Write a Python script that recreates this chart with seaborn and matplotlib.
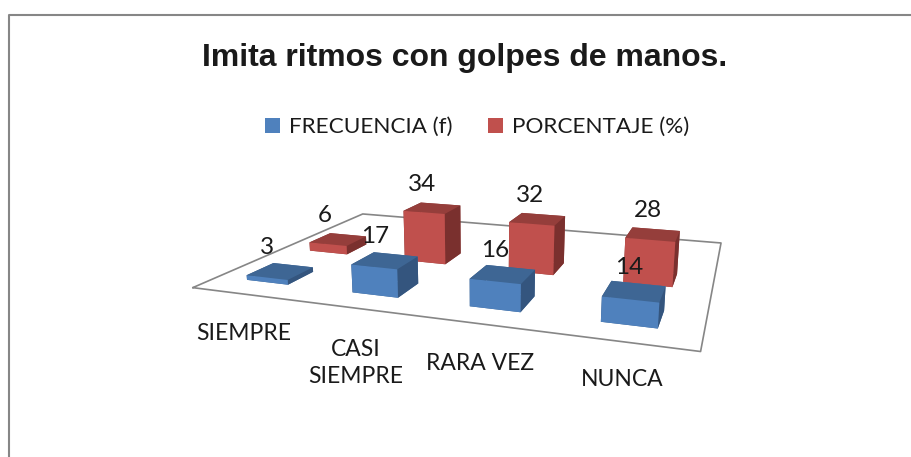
# Imita ritmos con golpes de manos - 3D bars, seaborn theme on a mplot3d axes
import numpy as np
from matplotlib import pyplot as plt
from matplotlib.lines import Line2D
from matplotlib.patches import Patch
from mpl_toolkits.mplot3d import proj3d
import seaborn as sns

categories = ["SIEMPRE", "CASI\nSIEMPRE", "RARA VEZ", "NUNCA"]
frecuencia = [3, 17, 16, 14]
porcentaje = [6, 34, 32, 28]
series_names = ["FRECUENCIA (f)", "PORCENTAJE (%)"]
title = "Imita ritmos con golpes de manos."

W, H = 911, 457
sns.set_theme(style="white")

# front, top and side colours of the bars
blue_front, blue_top, blue_side = "#4F81BD", "#3E6694", "#34557E"
red_front, red_top, red_side = "#C0504D", "#953E3B", "#7A302E"
frame_color = "#868686"

fig = plt.figure(figsize=(W/100, H/100), dpi=100)

# camera settings found by matching the floor corners of the original
dx, dy = 15.53, 17.66
ax = fig.add_axes([dx/W, (-(W-H)/2-dy)/H, 1, W/H], projection='3d')
ax.set_xlim(0, 4)
ax.set_ylim(0, 2)
ax.set_zlim(0, 40)
ax.set_axis_off()
ax.view_init(14.11, -70.68)
ax.set_proj_type('persp', focal_length=np.exp(-1.8659))
ax.set_box_aspect((3.3689, 2.4537, 0.4599), zoom=0.5912)

u0, bar_w, bar_d = 0.2886, 0.4007, 0.2655
rows = [
    (frecuencia, 0.2220, [blue_top, blue_top, blue_front, blue_top, blue_side, blue_side]),
    (porcentaje, 0.8973, [red_top, red_top, red_front, red_top, red_side, red_side]),
]

# floor outline
ax.plot([0, 0, 4, 4, 0], [0, 2, 2, 0, 0], [0, 0, 0, 0, 0], color=frame_color, lw=1.2)

M = ax.get_proj()
for values, v, face_colors in rows:
    for i, val in enumerate(values):
        ax.bar3d(i+u0, v, 0, bar_w, bar_d, val, color=face_colors, shade=False, linewidth=0)
        # value label above the centre of the bar top
        xs, ys, _ = proj3d.proj_transform(i+u0+bar_w/2, v+bar_d/2, val, M)
        ax.annotate(str(val), xy=(xs, ys), xycoords='data',
                    xytext=((-13+2.7*i)*0.72, 24*0.72), textcoords='offset points',
                    ha='center', va='center', fontsize=17.5, family='Lato', color='k', zorder=100)

# category labels sit under the floor, positions as in the original
label_pos = [(244, 333), (355.5, 363), (480.5, 363), (622, 379)]
for name, (lx, ly) in zip(categories, label_pos):
    fig.text(lx/W, 1-ly/H, name, ha='center', va='center', fontsize=16.5,
             family='Lato', color='k', linespacing=1.3)

fig.suptitle(title, x=465/W, y=1-58/H, ha='center', va='center', fontsize=23,
             fontweight='bold', family='Liberation Sans', color='k')

handles = [Patch(facecolor=blue_front, edgecolor='none'), Patch(facecolor=red_front, edgecolor='none')]
fig.legend(handles, series_names, loc='center', bbox_to_anchor=(477/W, 1-127/H), ncol=2,
           frameon=False, prop={'family': 'Lato', 'size': 16.2}, labelcolor='k',
           handlelength=0.66, handleheight=0.66, handletextpad=0.4, columnspacing=1.6, borderpad=0)

# chart frame, only top and left show in the crop
fig.add_artist(Line2D([8.5/W, 8.5/W, 1], [0, 1-14.5/H, 1-14.5/H], color=frame_color, lw=1.5))

fig.savefig("out.png", dpi=100)
